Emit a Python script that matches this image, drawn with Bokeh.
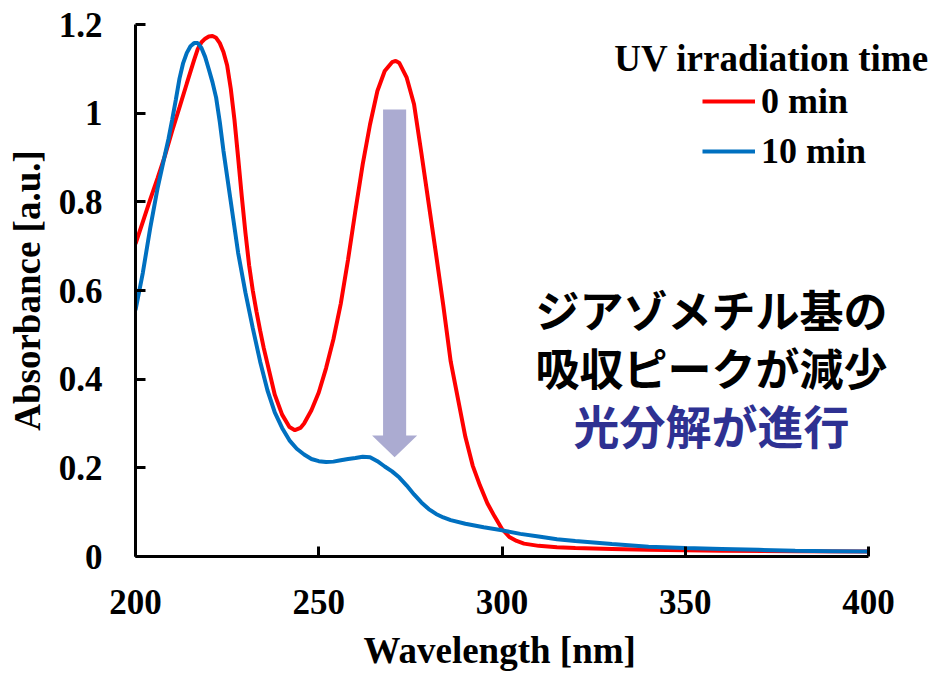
from bokeh.plotting import figure
from bokeh.models import Legend, LegendItem, Label, Range1d, FixedTicker, Title
from bokeh.embed import file_html
from bokeh.resources import INLINE

# ---- data ----
wl_0min = [200, 202, 204, 206, 208, 210, 212, 214, 216, 217, 218, 219, 220, 221, 222, 223, 224,
           225, 226, 227, 228, 229, 230, 231, 232, 233, 234, 235, 236, 238, 240, 242, 243.5, 245,
           246, 248, 250, 252, 254, 256, 258, 260, 262, 264, 266, 268, 270, 271, 272, 274, 276,
           278, 280, 282, 284, 286, 288, 290, 292, 294, 296, 298, 300, 302, 304, 306, 310, 315,
           320, 330, 340, 350, 360, 380, 400]
abs_0min = [0.705, 0.755, 0.805, 0.853, 0.903, 0.96, 1.013, 1.067, 1.12, 1.145, 1.16, 1.168, 1.173,
            1.174, 1.170, 1.158, 1.138, 1.108, 1.055, 0.985, 0.9, 0.812, 0.73, 0.657, 0.60, 0.553,
            0.51, 0.47, 0.435, 0.365, 0.32, 0.292, 0.285, 0.29, 0.30, 0.33, 0.37, 0.425, 0.49,
            0.57, 0.67, 0.78, 0.885, 0.975, 1.05, 1.095, 1.115, 1.118, 1.113, 1.08, 1.02, 0.91,
            0.796, 0.682, 0.565, 0.44, 0.355, 0.27, 0.205, 0.16, 0.12, 0.09, 0.062, 0.044, 0.035,
            0.029, 0.024, 0.021, 0.019, 0.017, 0.015, 0.014, 0.013, 0.012, 0.011]

wl_10min = [200, 202, 204, 206, 208, 209, 210, 211, 212, 213, 214, 215, 216, 217, 218, 219, 220,
            221, 222, 223, 224, 226, 228, 230, 232, 234, 236, 238, 240, 242, 244, 246, 248, 250,
            252, 254, 256, 258, 260, 262, 264, 266, 268, 270, 272, 274, 276, 278, 280, 282, 284,
            286, 290, 295, 300, 305, 310, 315, 320, 330, 340, 350, 360, 370, 380, 390, 400]
abs_10min = [0.556, 0.64, 0.74, 0.83, 0.905, 0.942, 0.985, 1.03, 1.078, 1.113, 1.136, 1.151,
             1.158, 1.158, 1.147, 1.127, 1.099, 1.07, 1.035, 0.98, 0.915, 0.80, 0.685, 0.595,
             0.515, 0.44, 0.375, 0.325, 0.29, 0.262, 0.243, 0.23, 0.22, 0.215, 0.213, 0.214,
             0.217, 0.22, 0.222, 0.225, 0.224, 0.215, 0.203, 0.192, 0.178, 0.16, 0.14, 0.122,
             0.107, 0.096, 0.088, 0.082, 0.074, 0.066, 0.059, 0.051, 0.045, 0.039, 0.035, 0.028,
             0.022, 0.019, 0.017, 0.015, 0.013, 0.012, 0.011]

series_labels = ["0 min", "10 min"]
legend_title = "UV irradiation time"
x_title = "Wavelength [nm]"
y_title = "Absorbance [a.u.]"
x_ticks = [200, 250, 300, 350, 400]
y_ticks = [0, 0.2, 0.4, 0.6, 0.8, 1.0, 1.2]
y_tick_labels = ["0", "0.2", "0.4", "0.6", "0.8", "1", "1.2"]
note_lines = ["ジアゾメチル基の", "吸収ピークが減少", "光分解が進行"]

# arrow annotation (data units)
arrow_x = 270.7
arrow_top = 1.008
arrow_neck = 0.273
arrow_tip = 0.224
arrow_shaft_half = 3.15
arrow_head_half = 6.15

SERIF = "Liberation Serif"
CJK = "Noto Sans CJK JP"

# frame spans 200..400 over 733 px; extra room on the right for legend / notes
px_per_nm = 733 / 200.0
x_end = 400 + 67 / px_per_nm

p = figure(width=939, height=674, output_backend="svg", toolbar_location=None,
           x_range=Range1d(200, x_end), y_range=Range1d(0, 1.2),
           min_border_left=135, min_border_right=4, min_border_top=24, min_border_bottom=118)
p.xgrid.visible = False
p.ygrid.visible = False
p.outline_line_color = None
p.background_fill_color = "white"

p.xaxis.ticker = FixedTicker(ticks=x_ticks)
p.xaxis.bounds = (200, 400)
p.yaxis.ticker = FixedTicker(ticks=y_ticks)
p.yaxis.major_label_overrides = dict(zip(y_ticks, y_tick_labels))
p.yaxis.axis_label = y_title

for ax in (p.xaxis[0], p.yaxis[0]):
    ax.axis_line_width = 3
    ax.axis_line_color = "black"
    ax.major_tick_line_width = 3
    ax.major_tick_line_color = "black"
    ax.major_tick_in = 10
    ax.major_tick_out = 0
    ax.minor_tick_line_color = None
    ax.major_label_text_font = SERIF
    ax.major_label_text_font_style = "bold"
    ax.major_label_text_font_size = "35px"
    ax.major_label_text_color = "black"
    ax.axis_label_text_font = SERIF
    ax.axis_label_text_font_style = "bold"
    ax.axis_label_text_font_size = "37px"
    ax.axis_label_text_color = "black"

p.xaxis.major_label_standoff = 33
p.yaxis.major_label_standoff = 33
p.yaxis.axis_label_standoff = 8

# spacer between tick labels and the x-axis title
p.add_layout(Title(text=" ", standoff=10, text_font_size="1px"), "below")
# x-axis title, centred under the 200..400 span
p.add_layout(Title(text=x_title, align="left", offset=228, standoff=0,
                   vertical_align="top", text_font=SERIF, text_font_style="bold",
                   text_font_size="37px", text_color="black"), "below")

# arrow (drawn beneath the curves)
ax_ = [arrow_x - arrow_shaft_half, arrow_x + arrow_shaft_half, arrow_x + arrow_shaft_half,
       arrow_x + arrow_head_half, arrow_x, arrow_x - arrow_head_half, arrow_x - arrow_shaft_half]
ay_ = [arrow_top, arrow_top, arrow_neck, arrow_neck, arrow_tip, arrow_neck, arrow_neck]
p.patch(ax_, ay_, fill_color="#ABABD1", line_color=None)

r0 = p.line(wl_0min, abs_0min, line_color="#FF0000", line_width=4)
r1 = p.line(wl_10min, abs_10min, line_color="#0070C0", line_width=4)

legend = Legend(items=[LegendItem(label=series_labels[0], renderers=[r0]),
                       LegendItem(label=series_labels[1], renderers=[r1])],
                location=(567, 384), orientation="vertical",
                border_line_color=None, background_fill_alpha=0,
                label_text_font=SERIF, label_text_font_style="bold",
                label_text_font_size="36px", label_text_color="black",
                glyph_width=53, glyph_height=20, label_standoff=6,
                spacing=8, padding=10, margin=0, label_height=40)
p.add_layout(legend)

p.add_layout(Label(x=636, y=498, x_units="screen", y_units="screen", text=legend_title,
                   text_align="center", text_baseline="middle", text_font=SERIF,
                   text_font_style="bold", text_font_size="37px", text_color="black"))

note_y = [248, 190, 133]
note_sizes = ["44px", "44px", "46px"]
note_colors = ["black", "black", "#2E3192"]
for t, yy, fs, c in zip(note_lines, note_y, note_sizes, note_colors):
    p.add_layout(Label(x=576, y=yy, x_units="screen", y_units="screen", text=t,
                       text_align="center", text_baseline="middle", text_font=CJK,
                       text_font_style="bold", text_font_size=fs, text_color=c))

open("out.html", "w").write(file_html(p, INLINE))
